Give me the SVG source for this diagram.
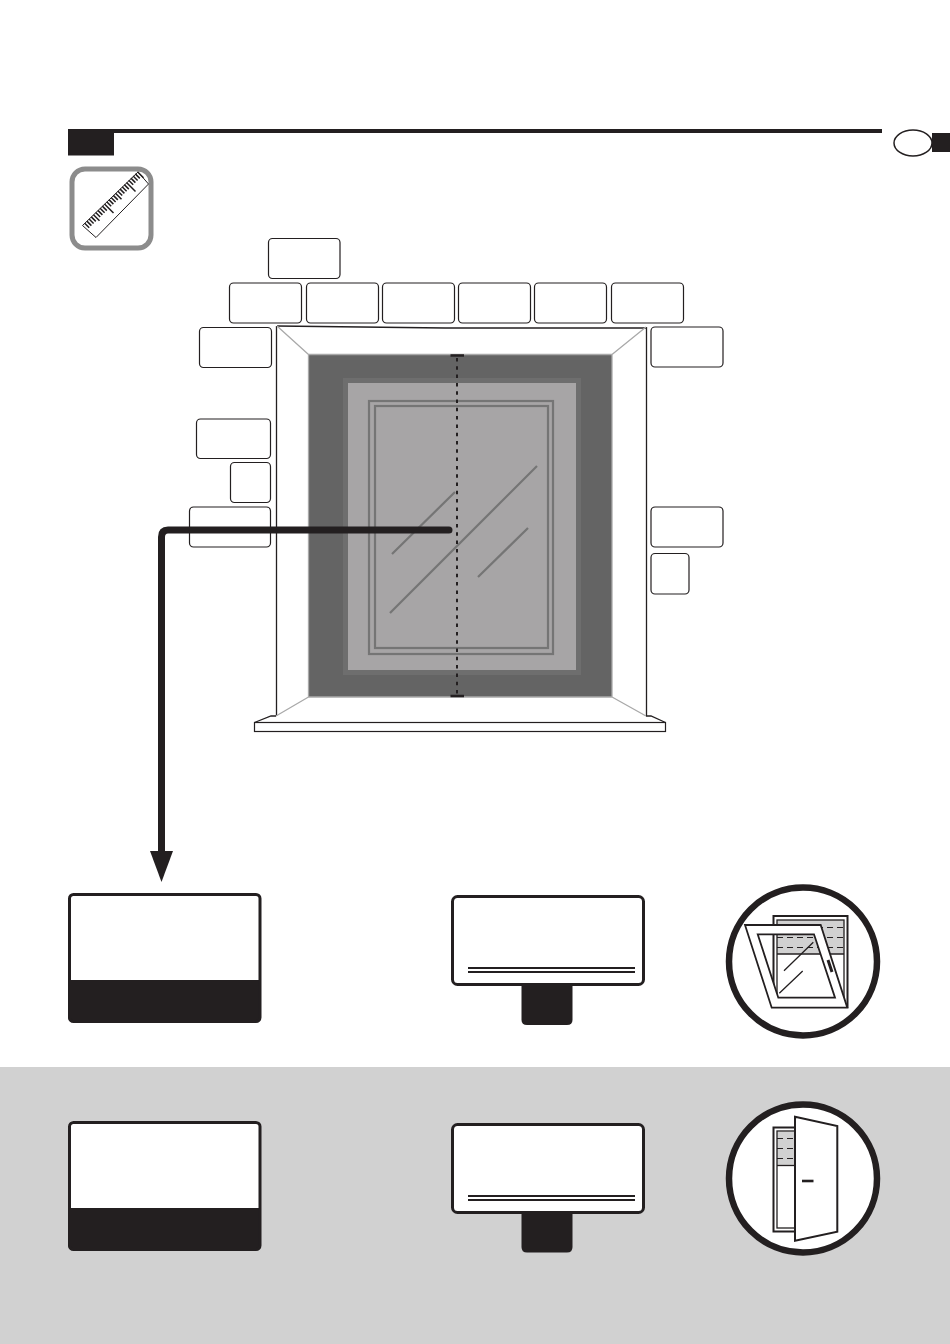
<svg xmlns="http://www.w3.org/2000/svg" width="950" height="1344" viewBox="0 0 950 1344">
<defs>
<style>
.lbl{fill:#fff;stroke:#231f20;stroke-width:1.200}
.k{fill:#231f20}
.gl{stroke:#757575;stroke-width:2.200;fill:none}
.thin{stroke:#231f20;stroke-width:1.300;fill:none}
.gr{stroke:#a9a9a9;stroke-width:1.300;fill:none}
.dash{stroke:#231f20;stroke-width:1.200;stroke-dasharray:6 4;fill:none}
.tick{stroke:#231f20;stroke-width:1.500;fill:none}
.card{fill:#fff;stroke:#231f20;stroke-width:3}
</style>
<clipPath id="c1"><rect x="68" y="893" width="193" height="129" rx="5"/></clipPath>
<clipPath id="c2"><rect x="68" y="1121" width="193" height="129" rx="5"/></clipPath>
</defs>
<rect width="950" height="1344" fill="#fff"/>
<rect id="band" x="0" y="1067" width="950" height="277" fill="#d1d1d1"/>
<g id="header">
<rect class="k" x="68" y="129" width="814" height="4"/>
<rect class="k" x="68" y="129" width="46" height="26.500"/>
<rect class="k" x="932" y="133" width="18" height="19"/>
<ellipse cx="913" cy="143" rx="19" ry="13" fill="#fff" stroke="#231f20" stroke-width="1.500"/>
</g>
<g id="ruler-icon">
<rect x="72" y="169" width="79" height="79" rx="13" fill="#fff" stroke="#8c8c8c" stroke-width="5"/>
<polygon points="82.500,225.500 96,237.500 148.500,184 138,172" fill="#fff" stroke="#231f20" stroke-width="1"/>
<path class="tick" d="M84.700,223.300l4.500,4.500m-2.300,-6.650l4.500,4.500m-2.300,-6.650l4.500,4.500m-2.300,-6.650l4.500,4.500m-2.300,-6.650l6,6m-3.800,-8.150l4.500,4.500m-2.300,-6.650l4.500,4.500m-2.300,-6.650l4.500,4.500m-2.300,-6.650l4.500,4.500m-2.300,-6.650l9,9m-6.800,-11.150l4.500,4.500m-2.300,-6.650l4.500,4.500m-2.300,-6.650l4.500,4.500m-2.300,-6.650l4.500,4.500m-2.300,-6.650l6,6m-3.800,-8.150l4.500,4.500m-2.300,-6.650l4.500,4.500m-2.300,-6.650l4.500,4.500m-2.300,-6.650l4.500,4.500m-2.300,-6.650l9,9m-6.800,-11.150l4.500,4.500m-2.300,-6.650l4.500,4.500m-2.300,-6.650l4.500,4.500m-2.300,-6.650l4.500,4.500m-2.300,-6.650l6,6"/>
</g>
<g id="window">
<path d="M276.500,326.500H646.500V716L665.500,722.500H254.500L276.500,716Z" fill="#fff"/>
<rect x="308.500" y="354.500" width="303.500" height="342.500" fill="#646464"/>
<rect x="343" y="378" width="238" height="297" fill="#6e6e6e"/>
<rect x="348" y="383" width="228" height="287" fill="#a7a5a6"/>
<rect class="gl" x="369" y="401" width="184" height="253"/>
<rect class="gl" x="375" y="406" width="173" height="242"/>
<path class="gl" d="M392,554L455,492M390,613L537,466M478,577L528,528"/>
<path class="thin" d="M276.500,326V716M646.500,327V716"/>
<path class="thin" stroke-width="1.200" d="M277,326L445,328H646"/>
<path class="gr" d="M277,326L308.500,354.500M646,327L612,354.500M276,716L308.500,697M646,716L612,697M308.500,354.500H612M308.500,354.500V697M612,354.500V697M308.500,697H612"/>
<path class="thin" d="M276,716H271L254.500,722.500M646,716H651L665.500,722.500"/>
<rect x="254.500" y="722.500" width="411" height="9" fill="#fff" stroke="#231f20" stroke-width="1.200"/>
</g>
<g id="label-1"><rect class="lbl" x="268.500" y="238.500" width="71.500" height="40" rx="4"/></g>
<g id="label-2"><rect class="lbl" x="229.500" y="283" width="72" height="40" rx="4"/></g>
<g id="label-3"><rect class="lbl" x="306.500" y="283" width="72" height="40" rx="4"/></g>
<g id="label-4"><rect class="lbl" x="382.500" y="283" width="72" height="40" rx="4"/></g>
<g id="label-5"><rect class="lbl" x="458.500" y="283" width="72" height="40" rx="4"/></g>
<g id="label-6"><rect class="lbl" x="534.500" y="283" width="72" height="40" rx="4"/></g>
<g id="label-7"><rect class="lbl" x="611.500" y="283" width="72" height="40" rx="4"/></g>
<g id="label-8"><rect class="lbl" x="199.500" y="327.500" width="72" height="40" rx="4"/></g>
<g id="label-9"><rect class="lbl" x="196.500" y="419" width="74" height="39.500" rx="4"/></g>
<g id="label-10"><rect class="lbl" x="230.500" y="462.500" width="40" height="40" rx="4"/></g>
<g id="label-11"><rect class="lbl" x="189.500" y="507" width="81" height="40" rx="4"/></g>
<g id="label-12"><rect class="lbl" x="651" y="327" width="72" height="40" rx="4"/></g>
<g id="label-13"><rect class="lbl" x="651" y="507" width="72" height="40" rx="4"/></g>
<g id="label-14"><rect class="lbl" x="651" y="553.500" width="38" height="40.500" rx="4"/></g>
<g id="connectors">
<path d="M457,358V696" fill="none" stroke="#231f20" stroke-width="2" stroke-dasharray="3.500 4.800"/>
<path d="M450.500,355.500H464M450.500,696H464" fill="none" stroke="#231f20" stroke-width="2.500"/>
<path d="M449,530H168Q161.500,530 161.500,537V853" fill="none" stroke="#231f20" stroke-width="7" stroke-linecap="round"/>
<polygon class="k" points="150,851 173,851 161.500,882"/>
</g>
<g id="card-a1">
<rect x="68" y="893" width="193" height="129" rx="5" fill="#fff"/>
<rect class="k" x="68" y="980" width="193" height="42.500" clip-path="url(#c1)"/>
<rect x="69.500" y="894.500" width="190.500" height="127" rx="4" fill="none" stroke="#231f20" stroke-width="3"/>
</g>
<g id="card-a2">
<path class="k" d="M521.500,980H572.500V1020Q572.500,1025 567,1025H527Q521.500,1025 521.500,1020Z"/>
<rect class="card" x="452.500" y="896.500" width="191" height="88" rx="5"/>
<path d="M468,968H635M468,972H635" stroke="#231f20" stroke-width="2" fill="none"/>
</g>
<g id="tilt-icon">
<circle cx="803" cy="961.500" r="74" fill="#fff" stroke="#231f20" stroke-width="6.500"/>
<rect x="777" y="920" width="67" height="34" fill="#d1d1d1"/>
<rect x="773.500" y="916" width="74" height="91" fill="none" stroke="#231f20" stroke-width="2"/>
<rect x="777" y="920" width="67" height="84" fill="none" stroke="#231f20" stroke-width="1.300"/>
<path class="thin" d="M777,954H844"/>
<path class="dash" d="M777,927.500H844M777,937.500H844M777,947.500H844"/>
<path fill="#fff" fill-rule="evenodd" stroke="#231f20" stroke-width="1.800" d="M745,925H820.700L847.300,1007.700H771.700ZM757.700,934.300L778.300,997.700H835L814,934.300Z"/>
<path class="thin" d="M784,970.700L813.300,942.300M779.300,993.300L802.700,971"/>
<path d="M828,960L832,972" stroke="#231f20" stroke-width="3" fill="none"/>
</g>
<g id="card-b1">
<rect x="68" y="1121" width="193" height="129" rx="5" fill="#fff"/>
<rect class="k" x="68" y="1208" width="193" height="42.500" clip-path="url(#c2)"/>
<rect x="69.500" y="1122.500" width="190.500" height="127" rx="4" fill="none" stroke="#231f20" stroke-width="3"/>
</g>
<g id="card-b2">
<path class="k" d="M521.500,1208H572.500V1247Q572.500,1252.500 567,1252.500H527Q521.500,1252.500 521.500,1247Z"/>
<rect class="card" x="452.500" y="1124.500" width="191" height="88" rx="5"/>
<path d="M468,1196H635M468,1200H635" stroke="#231f20" stroke-width="2" fill="none"/>
</g>
<g id="door-icon">
<circle cx="803" cy="1178.500" r="74" fill="#fff" stroke="#231f20" stroke-width="6.500"/>
<rect x="777" y="1131.500" width="20" height="34" fill="#d1d1d1"/>
<rect x="773.500" y="1127.500" width="24" height="104" fill="none" stroke="#231f20" stroke-width="2"/>
<rect x="777" y="1131" width="20" height="97" fill="none" stroke="#231f20" stroke-width="1.300"/>
<path class="thin" d="M777,1165.500H797"/>
<path class="dash" d="M777,1138.500H797M777,1148.500H797M777,1158.500H797"/>
<polygon points="795,1116.700 837.300,1126 837.300,1231.700 795,1240.700" fill="#fff" stroke="#231f20" stroke-width="2"/>
<path d="M802,1181H813.500" stroke="#231f20" stroke-width="2.600" fill="none"/>
</g>
</svg>
